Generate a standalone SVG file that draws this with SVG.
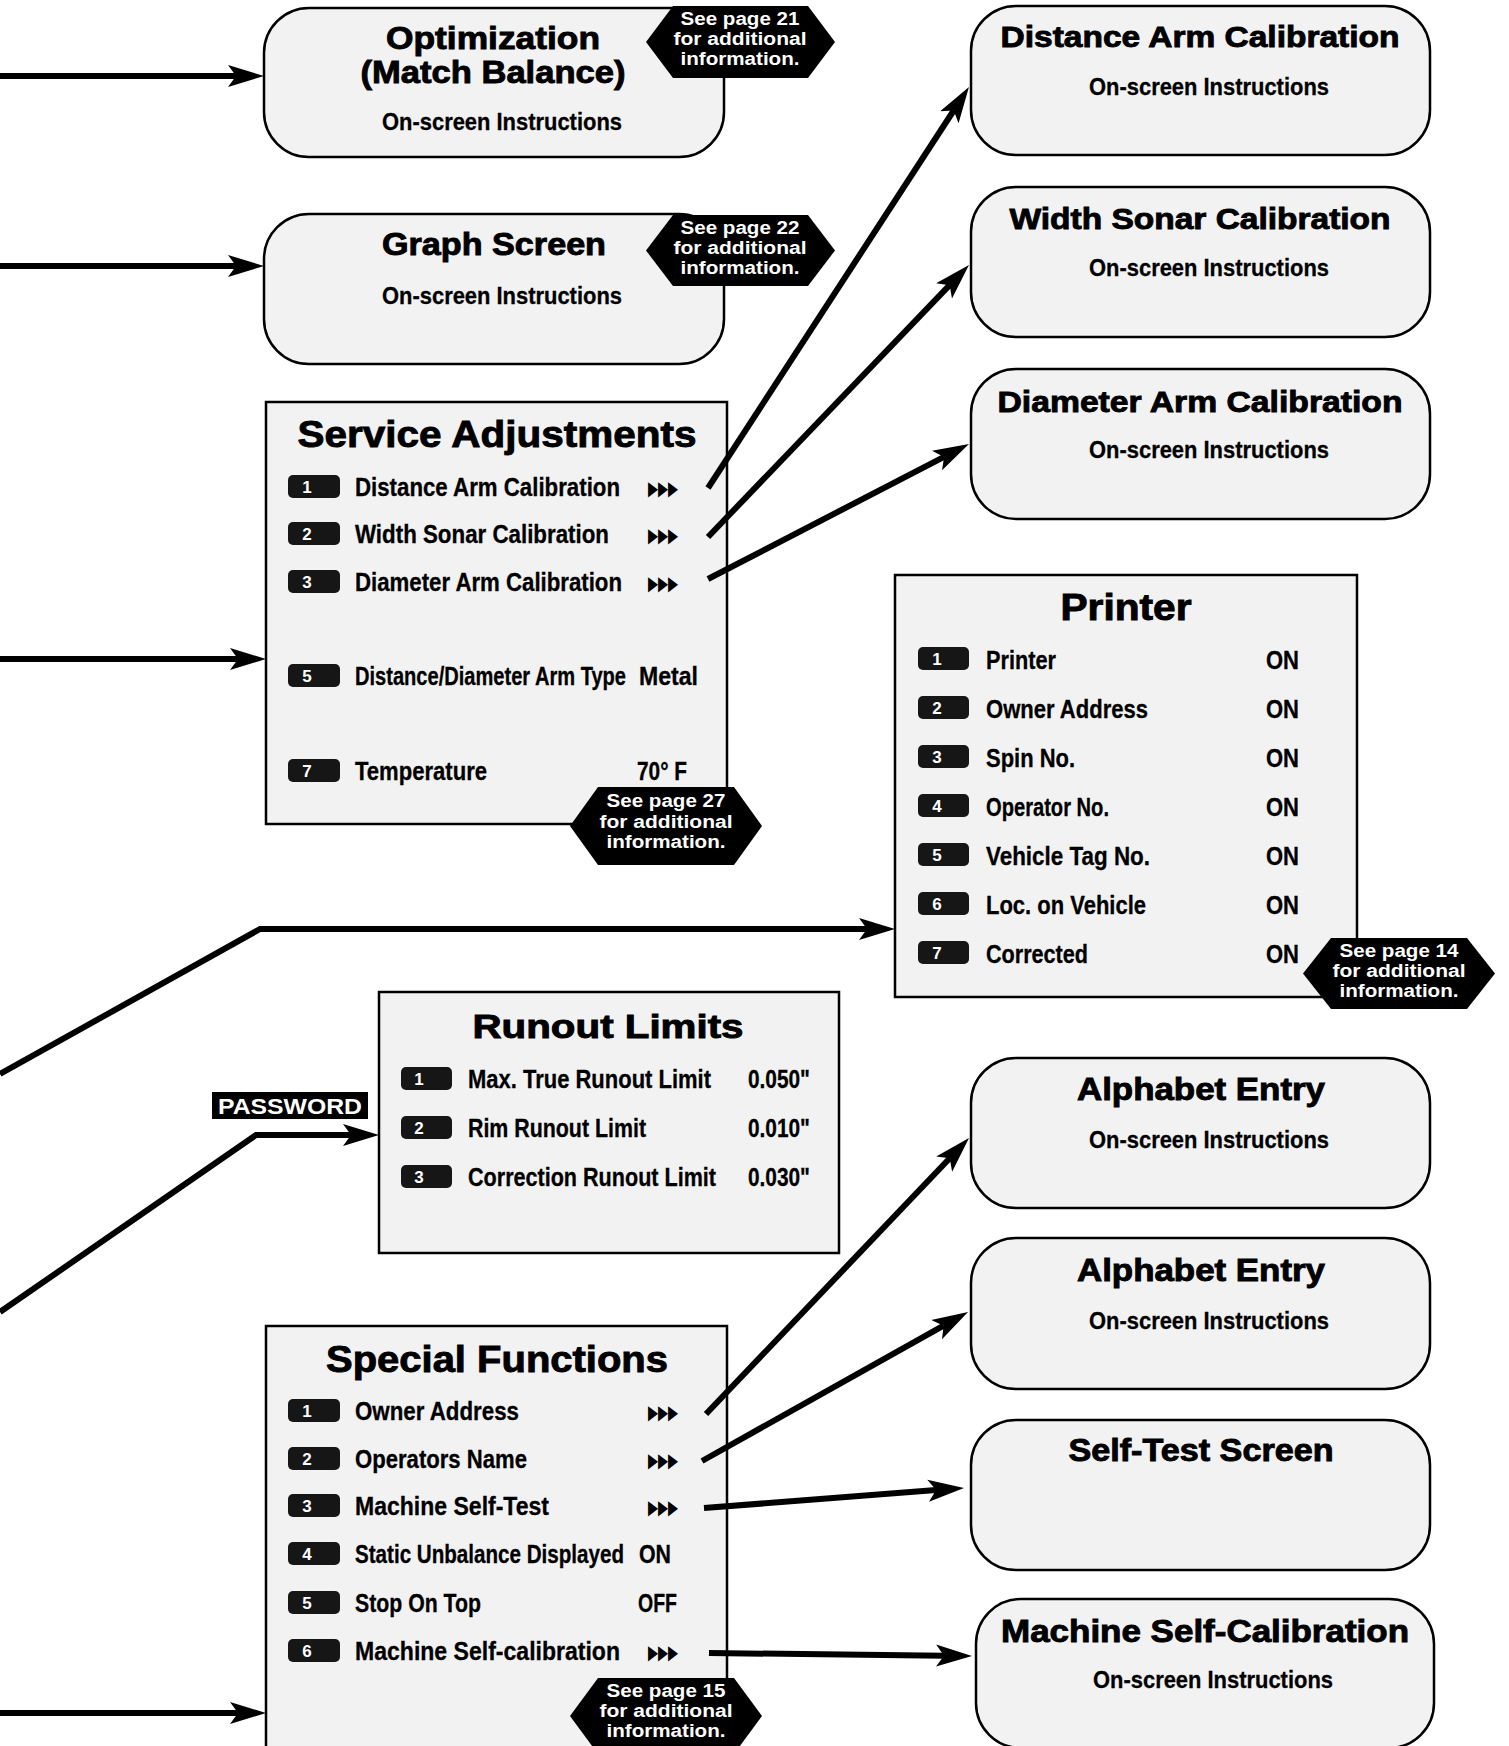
<svg xmlns="http://www.w3.org/2000/svg" width="1509" height="1746" viewBox="0 0 1509 1746">
<defs>
<style>
.box{fill:#f2f2f2;stroke:#000;stroke-width:2.5}
.c{font-family:"Liberation Sans Narrow","Liberation Sans",Arial,sans-serif;font-weight:bold;fill:#000}
.w{font-family:"Liberation Sans",Arial,sans-serif;font-weight:bold;fill:#000}
.hv{stroke:#000;stroke-width:0.9}
.mid{text-anchor:middle}
.row{font-size:25px;stroke:#000;stroke-width:0.3}
.os{font-size:24px;stroke:#000;stroke-width:0.3}
.key{fill:#161616}
.kd{font-family:"Liberation Sans",Arial,sans-serif;font-weight:bold;font-size:17px;fill:#fff;text-anchor:middle}
.tri{font-family:"DejaVu Sans",sans-serif;font-size:20px;fill:#000}
.badge{fill:#000}
.bt{font-family:"Liberation Sans",Arial,sans-serif;font-weight:bold;font-size:18px;fill:#fff;text-anchor:middle}
.conn{fill:none;stroke:#000;stroke-width:6;marker-end:url(#ah)}
</style>
<marker id="ah" markerUnits="userSpaceOnUse" markerWidth="40" markerHeight="24" viewBox="0 0 40 24" refX="8" refY="12" orient="auto">
<path d="M0,1 L36,12 L0,23 L8,12 Z" fill="#000"/>
</marker>
</defs>
<rect x="0" y="0" width="1509" height="1746" fill="#fff"/>

<g id="optimization">
<rect class="box" x="264" y="8" width="460" height="149" rx="45" ry="45"/>
<text class="c mid hv" x="493" y="49" font-size="31" textLength="214" lengthAdjust="spacingAndGlyphs">Optimization</text>
<text class="c mid hv" x="493" y="83" font-size="31" textLength="265" lengthAdjust="spacingAndGlyphs">(Match Balance)</text>
<text class="c mid os" x="502" y="130" textLength="240" lengthAdjust="spacingAndGlyphs">On-screen Instructions</text>
<polygon class="badge" points="646,42 673,6 808,6 835,42 808,78 673,78"/>
<text class="bt" x="740" y="25" textLength="119" lengthAdjust="spacingAndGlyphs">See page 21</text>
<text class="bt" x="740" y="45" textLength="133" lengthAdjust="spacingAndGlyphs">for additional</text>
<text class="bt" x="740" y="65" textLength="119" lengthAdjust="spacingAndGlyphs">information.</text>
</g>

<g id="graph-screen">
<rect class="box" x="264" y="214" width="460" height="150" rx="45" ry="45"/>
<text class="c mid hv" x="494" y="255" font-size="31" textLength="224" lengthAdjust="spacingAndGlyphs">Graph Screen</text>
<text class="c mid os" x="502" y="304" textLength="240" lengthAdjust="spacingAndGlyphs">On-screen Instructions</text>
<polygon class="badge" points="646,250.5 673,215 808,215 835,250.5 808,286 673,286"/>
<text class="bt" x="740" y="234" textLength="119" lengthAdjust="spacingAndGlyphs">See page 22</text>
<text class="bt" x="740" y="254" textLength="133" lengthAdjust="spacingAndGlyphs">for additional</text>
<text class="bt" x="740" y="274" textLength="119" lengthAdjust="spacingAndGlyphs">information.</text>
</g>

<g id="service-adjustments">
<rect class="box" x="266" y="402" width="461" height="422"/>
<text class="w mid hv" x="497" y="447" font-size="37" textLength="399" lengthAdjust="spacingAndGlyphs">Service Adjustments</text>
<rect class="key" x="288" y="475" width="52" height="23" rx="5"/><text class="kd" x="307" y="493">1</text>
<text class="c row" x="355" y="496" textLength="265" lengthAdjust="spacingAndGlyphs">Distance Arm Calibration</text>
<text class="tri" x="648" y="495" textLength="30" lengthAdjust="spacingAndGlyphs">▶▶▶</text>
<rect class="key" x="288" y="522" width="52" height="23" rx="5"/><text class="kd" x="307" y="540">2</text>
<text class="c row" x="355" y="543" textLength="254" lengthAdjust="spacingAndGlyphs">Width Sonar Calibration</text>
<text class="tri" x="648" y="542" textLength="30" lengthAdjust="spacingAndGlyphs">▶▶▶</text>
<rect class="key" x="288" y="570" width="52" height="23" rx="5"/><text class="kd" x="307" y="588">3</text>
<text class="c row" x="355" y="591" textLength="267" lengthAdjust="spacingAndGlyphs">Diameter Arm Calibration</text>
<text class="tri" x="648" y="590" textLength="30" lengthAdjust="spacingAndGlyphs">▶▶▶</text>
<rect class="key" x="288" y="664" width="52" height="23" rx="5"/><text class="kd" x="307" y="682">5</text>
<text class="c row" x="355" y="685" textLength="271" lengthAdjust="spacingAndGlyphs">Distance/Diameter Arm Type</text>
<text class="c row" x="639" y="685" textLength="59" lengthAdjust="spacingAndGlyphs">Metal</text>
<rect class="key" x="288" y="759" width="52" height="23" rx="5"/><text class="kd" x="307" y="777">7</text>
<text class="c row" x="355" y="780" textLength="132" lengthAdjust="spacingAndGlyphs">Temperature</text>
<text class="c row" x="637" y="780" textLength="50" lengthAdjust="spacingAndGlyphs">70° F</text>
<polygon class="badge" points="570,826 598,787 734,787 762,826 734,865 598,865"/>
<text class="bt" x="666" y="807" textLength="119" lengthAdjust="spacingAndGlyphs">See page 27</text>
<text class="bt" x="666" y="828" textLength="133" lengthAdjust="spacingAndGlyphs">for additional</text>
<text class="bt" x="666" y="848" textLength="119" lengthAdjust="spacingAndGlyphs">information.</text>
</g>

<g id="distance-arm-calibration">
<rect class="box" x="971" y="6" width="459" height="149" rx="45" ry="45"/>
<text class="w mid hv" x="1200" y="47" font-size="30" textLength="399" lengthAdjust="spacingAndGlyphs">Distance Arm Calibration</text>
<text class="c mid os" x="1209" y="95" textLength="240" lengthAdjust="spacingAndGlyphs">On-screen Instructions</text>
</g>

<g id="width-sonar-calibration">
<rect class="box" x="971" y="187" width="459" height="150" rx="45" ry="45"/>
<text class="w mid hv" x="1200" y="229" font-size="30" textLength="381" lengthAdjust="spacingAndGlyphs">Width Sonar Calibration</text>
<text class="c mid os" x="1209" y="276" textLength="240" lengthAdjust="spacingAndGlyphs">On-screen Instructions</text>
</g>

<g id="diameter-arm-calibration">
<rect class="box" x="971" y="369" width="459" height="150" rx="45" ry="45"/>
<text class="w mid hv" x="1200" y="412" font-size="30" textLength="405" lengthAdjust="spacingAndGlyphs">Diameter Arm Calibration</text>
<text class="c mid os" x="1209" y="458" textLength="240" lengthAdjust="spacingAndGlyphs">On-screen Instructions</text>
</g>

<g id="printer">
<rect class="box" x="895" y="575" width="462" height="422"/>
<text class="w mid hv" x="1126" y="620" font-size="36" textLength="131" lengthAdjust="spacingAndGlyphs">Printer</text>
<rect class="key" x="918" y="647" width="51" height="23" rx="5"/><text class="kd" x="937" y="665">1</text>
<text class="c row" x="986" y="669" textLength="70" lengthAdjust="spacingAndGlyphs">Printer</text>
<text class="c row" x="1266" y="669" textLength="33" lengthAdjust="spacingAndGlyphs">ON</text>
<rect class="key" x="918" y="696" width="51" height="23" rx="5"/><text class="kd" x="937" y="714">2</text>
<text class="c row" x="986" y="718" textLength="162" lengthAdjust="spacingAndGlyphs">Owner Address</text>
<text class="c row" x="1266" y="718" textLength="33" lengthAdjust="spacingAndGlyphs">ON</text>
<rect class="key" x="918" y="745" width="51" height="23" rx="5"/><text class="kd" x="937" y="763">3</text>
<text class="c row" x="986" y="767" textLength="89" lengthAdjust="spacingAndGlyphs">Spin No.</text>
<text class="c row" x="1266" y="767" textLength="33" lengthAdjust="spacingAndGlyphs">ON</text>
<rect class="key" x="918" y="794" width="51" height="23" rx="5"/><text class="kd" x="937" y="812">4</text>
<text class="c row" x="986" y="816" textLength="123" lengthAdjust="spacingAndGlyphs">Operator No.</text>
<text class="c row" x="1266" y="816" textLength="33" lengthAdjust="spacingAndGlyphs">ON</text>
<rect class="key" x="918" y="843" width="51" height="23" rx="5"/><text class="kd" x="937" y="861">5</text>
<text class="c row" x="986" y="865" textLength="164" lengthAdjust="spacingAndGlyphs">Vehicle Tag No.</text>
<text class="c row" x="1266" y="865" textLength="33" lengthAdjust="spacingAndGlyphs">ON</text>
<rect class="key" x="918" y="892" width="51" height="23" rx="5"/><text class="kd" x="937" y="910">6</text>
<text class="c row" x="986" y="914" textLength="160" lengthAdjust="spacingAndGlyphs">Loc. on Vehicle</text>
<text class="c row" x="1266" y="914" textLength="33" lengthAdjust="spacingAndGlyphs">ON</text>
<rect class="key" x="918" y="941" width="51" height="23" rx="5"/><text class="kd" x="937" y="959">7</text>
<text class="c row" x="986" y="963" textLength="102" lengthAdjust="spacingAndGlyphs">Corrected</text>
<text class="c row" x="1266" y="963" textLength="33" lengthAdjust="spacingAndGlyphs">ON</text>
<polygon class="badge" points="1303,973.5 1331,938 1467,938 1495,973.5 1467,1009 1331,1009"/>
<text class="bt" x="1399" y="957" textLength="119" lengthAdjust="spacingAndGlyphs">See page 14</text>
<text class="bt" x="1399" y="977" textLength="133" lengthAdjust="spacingAndGlyphs">for additional</text>
<text class="bt" x="1399" y="997" textLength="119" lengthAdjust="spacingAndGlyphs">information.</text>
</g>

<g id="password-label">
<rect x="212" y="1092" width="156" height="27" fill="#000"/>
<text class="c mid" x="290" y="1114" font-size="22" style="fill:#fff" textLength="144" lengthAdjust="spacingAndGlyphs">PASSWORD</text>
</g>

<g id="runout-limits">
<rect class="box" x="379" y="992" width="460" height="261"/>
<text class="c mid hv" x="608" y="1038" font-size="33" textLength="271" lengthAdjust="spacingAndGlyphs">Runout Limits</text>
<rect class="key" x="401" y="1067" width="51" height="23" rx="5"/><text class="kd" x="419" y="1085">1</text>
<text class="c row" x="468" y="1088" textLength="243" lengthAdjust="spacingAndGlyphs">Max. True Runout Limit</text>
<text class="c row" x="748" y="1088" textLength="62" lengthAdjust="spacingAndGlyphs">0.050"</text>
<rect class="key" x="401" y="1116" width="51" height="23" rx="5"/><text class="kd" x="419" y="1134">2</text>
<text class="c row" x="468" y="1137" textLength="178" lengthAdjust="spacingAndGlyphs">Rim Runout Limit</text>
<text class="c row" x="748" y="1137" textLength="62" lengthAdjust="spacingAndGlyphs">0.010"</text>
<rect class="key" x="401" y="1165" width="51" height="23" rx="5"/><text class="kd" x="419" y="1183">3</text>
<text class="c row" x="468" y="1186" textLength="248" lengthAdjust="spacingAndGlyphs">Correction Runout Limit</text>
<text class="c row" x="748" y="1186" textLength="62" lengthAdjust="spacingAndGlyphs">0.030"</text>
</g>

<g id="alphabet-entry-1">
<rect class="box" x="971" y="1058" width="459" height="150" rx="45" ry="45"/>
<text class="w mid hv" x="1201" y="1100" font-size="31" textLength="248" lengthAdjust="spacingAndGlyphs">Alphabet Entry</text>
<text class="c mid os" x="1209" y="1148" textLength="240" lengthAdjust="spacingAndGlyphs">On-screen Instructions</text>
</g>

<g id="alphabet-entry-2">
<rect class="box" x="971" y="1238" width="459" height="151" rx="45" ry="45"/>
<text class="w mid hv" x="1201" y="1281" font-size="31" textLength="248" lengthAdjust="spacingAndGlyphs">Alphabet Entry</text>
<text class="c mid os" x="1209" y="1329" textLength="240" lengthAdjust="spacingAndGlyphs">On-screen Instructions</text>
</g>

<g id="self-test-screen">
<rect class="box" x="971" y="1420" width="459" height="150" rx="45" ry="45"/>
<text class="w mid hv" x="1201" y="1461" font-size="31" textLength="265" lengthAdjust="spacingAndGlyphs">Self-Test Screen</text>
</g>

<g id="machine-self-calibration">
<rect class="box" x="976" y="1599" width="458" height="149" rx="45" ry="45"/>
<text class="w mid hv" x="1205" y="1642" font-size="31" textLength="408" lengthAdjust="spacingAndGlyphs">Machine Self-Calibration</text>
<text class="c mid os" x="1213" y="1688" textLength="240" lengthAdjust="spacingAndGlyphs">On-screen Instructions</text>
</g>

<g id="special-functions">
<rect class="box" x="266" y="1326" width="461" height="440"/>
<text class="w mid hv" x="497" y="1372" font-size="37" textLength="342" lengthAdjust="spacingAndGlyphs">Special Functions</text>
<rect class="key" x="288" y="1399" width="52" height="23" rx="5"/><text class="kd" x="307" y="1417">1</text>
<text class="c row" x="355" y="1420" textLength="164" lengthAdjust="spacingAndGlyphs">Owner Address</text>
<text class="tri" x="648" y="1419" textLength="30" lengthAdjust="spacingAndGlyphs">▶▶▶</text>
<rect class="key" x="288" y="1447" width="52" height="23" rx="5"/><text class="kd" x="307" y="1465">2</text>
<text class="c row" x="355" y="1468" textLength="172" lengthAdjust="spacingAndGlyphs">Operators Name</text>
<text class="tri" x="648" y="1467" textLength="30" lengthAdjust="spacingAndGlyphs">▶▶▶</text>
<rect class="key" x="288" y="1494" width="52" height="23" rx="5"/><text class="kd" x="307" y="1512">3</text>
<text class="c row" x="355" y="1515" textLength="194" lengthAdjust="spacingAndGlyphs">Machine Self-Test</text>
<text class="tri" x="648" y="1514" textLength="30" lengthAdjust="spacingAndGlyphs">▶▶▶</text>
<rect class="key" x="288" y="1542" width="52" height="23" rx="5"/><text class="kd" x="307" y="1560">4</text>
<text class="c row" x="355" y="1563" textLength="269" lengthAdjust="spacingAndGlyphs">Static Unbalance Displayed</text>
<text class="c row" x="639" y="1563" textLength="32" lengthAdjust="spacingAndGlyphs">ON</text>
<rect class="key" x="288" y="1591" width="52" height="23" rx="5"/><text class="kd" x="307" y="1609">5</text>
<text class="c row" x="355" y="1612" textLength="126" lengthAdjust="spacingAndGlyphs">Stop On Top</text>
<text class="c row" x="638" y="1612" textLength="39" lengthAdjust="spacingAndGlyphs">OFF</text>
<rect class="key" x="288" y="1639" width="52" height="23" rx="5"/><text class="kd" x="307" y="1657">6</text>
<text class="c row" x="355" y="1660" textLength="265" lengthAdjust="spacingAndGlyphs">Machine Self-calibration</text>
<text class="tri" x="648" y="1659" textLength="30" lengthAdjust="spacingAndGlyphs">▶▶▶</text>
<polygon class="badge" points="570,1716 598,1678 734,1678 762,1716 734,1754 598,1754"/>
<text class="bt" x="666" y="1697" textLength="119" lengthAdjust="spacingAndGlyphs">See page 15</text>
<text class="bt" x="666" y="1717" textLength="133" lengthAdjust="spacingAndGlyphs">for additional</text>
<text class="bt" x="666" y="1737" textLength="119" lengthAdjust="spacingAndGlyphs">information.</text>
</g>

<g id="connectors">
<path class="conn" d="M0,76 H236"/>
<path class="conn" d="M0,266 H236"/>
<path class="conn" d="M0,659 H238"/>
<path class="conn" d="M0,1074 L260,929 H867"/>
<path class="conn" d="M0,1312 L256,1135 H351"/>
<path class="conn" d="M0,1713 H238"/>
<path class="conn" d="M708,488 L953.7,110.5"/>
<path class="conn" d="M708,537 L949.6,285.2"/>
<path class="conn" d="M708,579 L944.1,456.9"/>
<path class="conn" d="M706,1414 L949.7,1158.3"/>
<path class="conn" d="M702,1461 L943.6,1325.7"/>
<path class="conn" d="M704,1508 L936.1,1490.1"/>
<path class="conn" d="M709,1653 L944,1655.7"/>
</g>
</svg>
